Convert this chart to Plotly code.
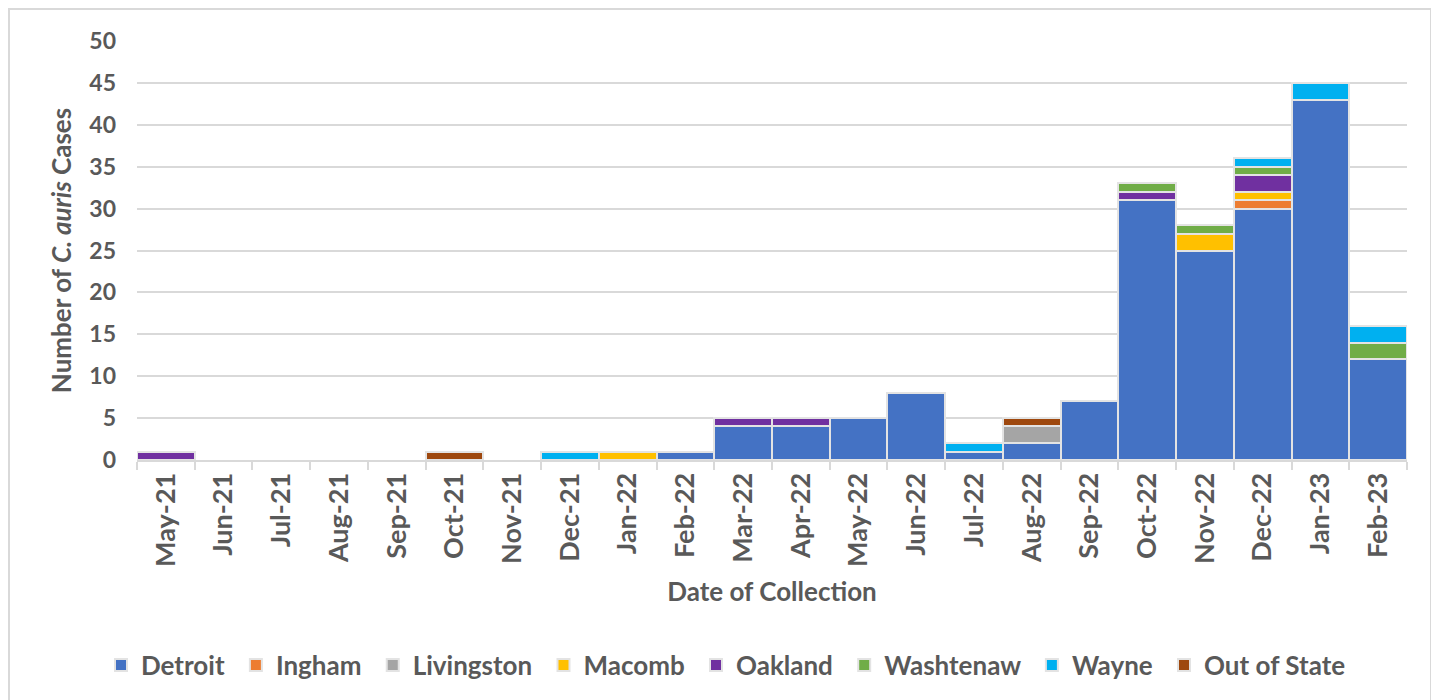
import plotly.graph_objects as go

months = ["May-21", "Jun-21", "Jul-21", "Aug-21", "Sep-21", "Oct-21", "Nov-21", "Dec-21",
          "Jan-22", "Feb-22", "Mar-22", "Apr-22", "May-22", "Jun-22", "Jul-22", "Aug-22",
          "Sep-22", "Oct-22", "Nov-22", "Dec-22", "Jan-23", "Feb-23"]

detroit     = [0, 0, 0, 0, 0, 0, 0, 0, 0, 1, 4, 4, 5, 8, 1, 2, 7, 31, 25, 30, 43, 12]
ingham      = [0, 0, 0, 0, 0, 0, 0, 0, 0, 0, 0, 0, 0, 0, 0, 0, 0, 0, 0, 1, 0, 0]
livingston  = [0, 0, 0, 0, 0, 0, 0, 0, 0, 0, 0, 0, 0, 0, 0, 2, 0, 0, 0, 0, 0, 0]
macomb      = [0, 0, 0, 0, 0, 0, 0, 0, 1, 0, 0, 0, 0, 0, 0, 0, 0, 0, 2, 1, 0, 0]
oakland     = [1, 0, 0, 0, 0, 0, 0, 0, 0, 0, 1, 1, 0, 0, 0, 0, 0, 1, 0, 2, 0, 0]
washtenaw   = [0, 0, 0, 0, 0, 0, 0, 0, 0, 0, 0, 0, 0, 0, 0, 0, 0, 1, 1, 1, 0, 2]
wayne       = [0, 0, 0, 0, 0, 0, 0, 1, 0, 0, 0, 0, 0, 0, 1, 0, 0, 0, 0, 1, 2, 2]
out_state   = [0, 0, 0, 0, 0, 1, 0, 0, 0, 0, 0, 0, 0, 0, 0, 1, 0, 0, 0, 0, 0, 0]

series = [
    ("Detroit", detroit, "#4472C4"),
    ("Ingham", ingham, "#ED7D31"),
    ("Livingston", livingston, "#A5A5A5"),
    ("Macomb", macomb, "#FFC000"),
    ("Oakland", oakland, "#7030A0"),
    ("Washtenaw", washtenaw, "#70AD47"),
    ("Wayne", wayne, "#00B0F0"),
    ("Out of State", out_state, "#9E480E"),
]

FONT = "Lato"
GREY = "#595959"
PAD = "\u00a0"  # a little extra spacing after each legend entry

fig = go.Figure()
for name, vals, color in series:
    fig.add_trace(go.Bar(
        x=months, y=[v if v else None for v in vals], name=name + PAD,
        marker=dict(color=color, line=dict(color="#e3e3e3", width=2)),
    ))

W, H = 1439, 700
L, R, T, B = 129, 40, 33, 248
pw, ph = W - L - R, H - T - B

def px_x(x):
    return (x - L) / pw

def px_y(y):
    return (H - B - y) / ph

fig.add_shape(type="rect", xref="paper", yref="paper",
              x0=px_x(1), x1=px_x(1423), y0=px_y(1), y1=px_y(720),
              line=dict(color="#d9d9d9", width=2), fillcolor="rgba(0,0,0,0)", layer="below")

fig.update_layout(
    width=W, height=H,
    barmode="stack", bargap=0,
    plot_bgcolor="white", paper_bgcolor="white",
    margin=dict(l=L, r=R, t=T, b=B, autoexpand=False),
    font=dict(family=FONT, color=GREY, size=22),
    legend=dict(orientation="h", x=px_x(721),
                xanchor="center", y=px_y(657), yanchor="middle",
                font=dict(family=FONT, size=26, color=GREY, weight="bold"),
                itemwidth=30, traceorder="normal"),
    xaxis=dict(
        type="category", tickangle=-90,
        tickfont=dict(family=FONT, size=27, color=GREY, weight="bold"),
        showline=True, linecolor="#d9d9d9", linewidth=2,
        ticks="outside", tickson="boundaries", ticklen=8, tickcolor="#d9d9d9", tickwidth=2,
        title=dict(text="Date of Collection", standoff=17,
                   font=dict(family=FONT, size=26, color=GREY, weight="bold")),
    ),
    yaxis=dict(
        range=[0, 50], dtick=5, tick0=0,
        tickfont=dict(family=FONT, size=23, color=GREY, weight="bold"),
        showgrid=True, gridcolor="#d9d9d9", gridwidth=2,
        zeroline=False, ticks="", ticklen=0, ticklabelstandoff=20,
        title=dict(text="Number of <i>C. auris</i> Cases", standoff=10,
                   font=dict(family=FONT, size=26, color=GREY, weight="bold")),
    ),
)

fig.write_html("out.html")
